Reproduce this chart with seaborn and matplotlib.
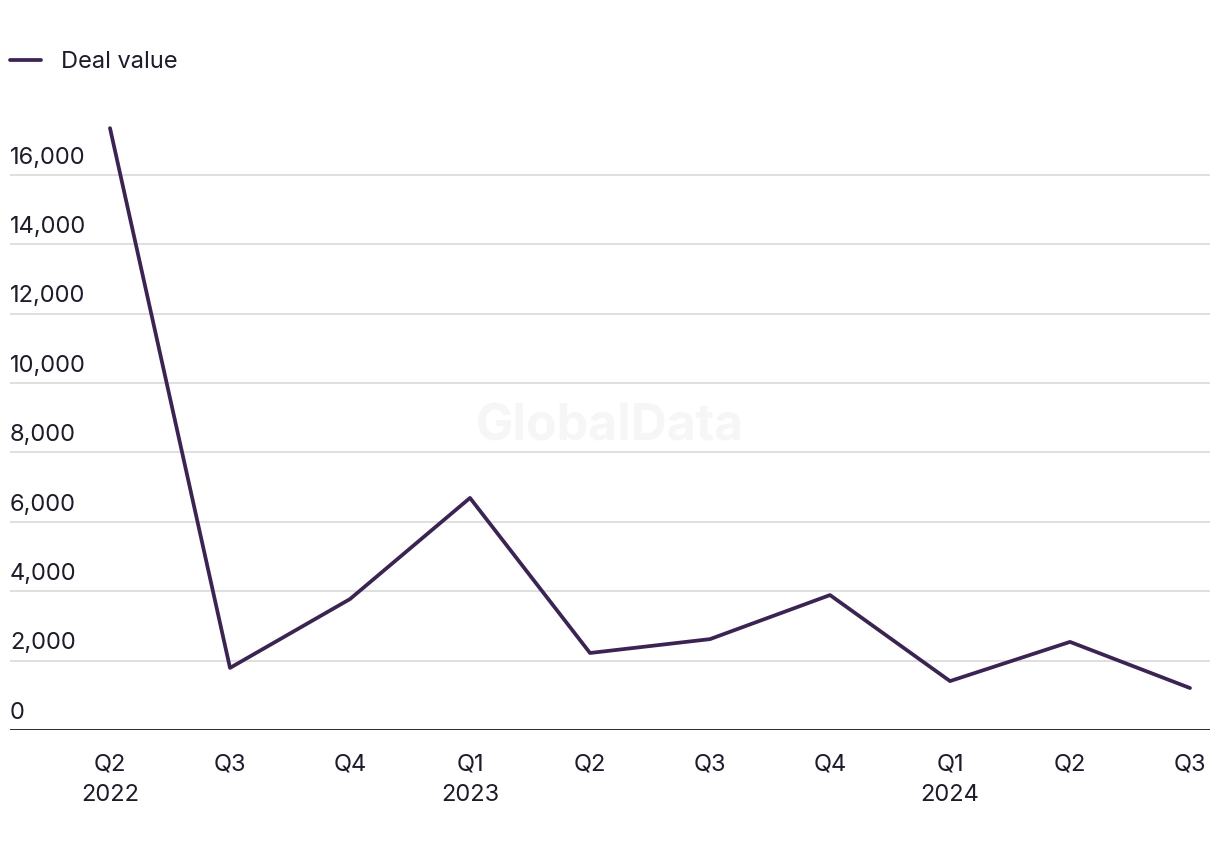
import pandas as pd
import matplotlib.pyplot as plt
import matplotlib.transforms as mtransforms
import seaborn as sns

# Chart data (deal value by quarter)
quarters = ["Q2\n2022", "Q3", "Q4", "Q1\n2023", "Q2", "Q3", "Q4", "Q1\n2024", "Q2", "Q3"]
deal_value = [17350, 1790, 3775, 6690, 2220, 2620, 3890, 1410, 2540, 1210]
y_ticks = [0, 2000, 4000, 6000, 8000, 10000, 12000, 14000, 16000]

df = pd.DataFrame({"pos": range(len(quarters)), "value": deal_value})

sns.set_style("white")
plt.rcParams["font.family"] = ["Inter", "DejaVu Sans"]

line_color = "#3b2352"
text_color = "#1c1c2b"
fs = 17

fig = plt.figure(figsize=(12.2, 8.5), dpi=100)
ax = fig.add_axes([10 / 1220, 1 - 730 / 850, 1200 / 1220, (730 - 105.6) / 850])

sns.lineplot(data=df, x="pos", y="value", color=line_color, linewidth=2.7,
             label="Deal value", ax=ax, legend=False)

ax.set_xlim(-100 / 120, 9 + 20 / 120)
ax.set_ylim(0, 18000)
ax.set_xticks(range(len(quarters)))
ax.set_xticklabels(quarters, fontsize=fs, color=text_color, linespacing=1.5)
ax.tick_params(axis="x", length=0, pad=17)
ax.set_yticks(y_ticks)
ax.set_yticklabels([])
ax.tick_params(axis="y", length=0)
ax.set_xlabel("")
ax.set_ylabel("")

# gridlines and baseline
for v in y_ticks[1:]:
    ax.axhline(v, color="#d9d9d9", linewidth=1.2, zorder=0)
ax.axhline(0, color="#141424", linewidth=2.0, zorder=3)
for s in ax.spines.values():
    s.set_visible(False)

# y labels sit above the gridlines, left aligned
trans = mtransforms.blended_transform_factory(ax.transAxes, ax.transData)
offset = mtransforms.offset_copy(trans, fig=fig, x=0, y=4.5, units="points")
for v in y_ticks:
    ax.text(0, v, f"{v:,}", transform=offset, ha="left", va="bottom",
            fontsize=fs, color=text_color)

# watermark
fig.text(610 / 1220, 1 - 427 / 850, "GlobalData", ha="center", va="center",
         fontsize=36, fontweight="bold", color="#f6f6f6", zorder=0)

# legend
h, l = ax.get_legend_handles_labels()
fig.legend(h, l, loc="center left", bbox_to_anchor=(10 / 1220, 1 - 62 / 850),
           frameon=False, fontsize=fs, handlelength=1.3, handletextpad=0.85,
           borderaxespad=0, borderpad=0, labelcolor=text_color)

plt.savefig("out.png", dpi=100)
